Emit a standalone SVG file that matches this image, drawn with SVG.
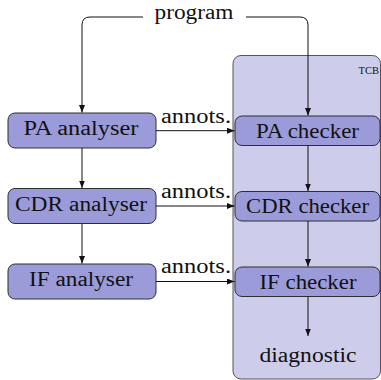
<svg xmlns="http://www.w3.org/2000/svg" width="381" height="380" viewBox="0 0 381 380">
<style>
  .node { fill: #9b9bda; stroke: #2e2e2e; stroke-width: 1; }
  .tcb { fill: #cdcdeb; stroke: #555; stroke-width: 1; }
  .lbl { font-size: 20px; text-anchor: middle; fill: #111; }
  .small { font-size: 10.5px; text-anchor: end; fill: #111; }
  .conn { fill: none; stroke: #111; stroke-width: 1; }
</style>
<defs>
  <marker id="arr" markerUnits="userSpaceOnUse" markerWidth="8" markerHeight="7" refX="7.5" refY="3" orient="auto">
    <path d="M0,0 L7.5,3 L0,6 z" fill="#111"/>
  </marker>
</defs>

<g id="tcb">
  <rect class="tcb" x="233" y="55.5" width="147.5" height="323.5" rx="8" ry="8"/>
  <text class="small" x="379" y="74" font-family="Liberation Serif, DejaVu Serif, serif">TCB</text>
</g>

<g id="pa-analyser">
  <rect class="node" x="8" y="113" width="148" height="35" rx="7" ry="7"/>
  <text class="lbl" x="81" y="135.2" font-family="Liberation Serif, DejaVu Serif, serif" textLength="115" lengthAdjust="spacingAndGlyphs">PA analyser</text>
</g>
<g id="cdr-analyser">
  <rect class="node" x="8" y="188.5" width="148" height="35" rx="7" ry="7"/>
  <text class="lbl" x="81" y="210.7" font-family="Liberation Serif, DejaVu Serif, serif" textLength="132" lengthAdjust="spacingAndGlyphs">CDR analyser</text>
</g>
<g id="if-analyser">
  <rect class="node" x="8" y="264" width="148" height="35" rx="7" ry="7"/>
  <text class="lbl" x="81" y="286.2" font-family="Liberation Serif, DejaVu Serif, serif" textLength="104" lengthAdjust="spacingAndGlyphs">IF analyser</text>
</g>

<g id="pa-checker">
  <rect class="node" x="235" y="116" width="145" height="29.5" rx="7" ry="7"/>
  <text class="lbl" x="307.5" y="137.7" font-family="Liberation Serif, DejaVu Serif, serif" textLength="103" lengthAdjust="spacingAndGlyphs">PA checker</text>
</g>
<g id="cdr-checker">
  <rect class="node" x="235" y="191.5" width="145" height="29.5" rx="7" ry="7"/>
  <text class="lbl" x="307.5" y="213.2" font-family="Liberation Serif, DejaVu Serif, serif" textLength="123" lengthAdjust="spacingAndGlyphs">CDR checker</text>
</g>
<g id="if-checker">
  <rect class="node" x="235" y="267" width="145" height="29.5" rx="7" ry="7"/>
  <text class="lbl" x="308" y="288.7" font-family="Liberation Serif, DejaVu Serif, serif" textLength="97" lengthAdjust="spacingAndGlyphs">IF checker</text>
</g>

<g id="diagnostic">
  <text class="lbl" x="308" y="361.5" font-family="Liberation Serif, DejaVu Serif, serif" textLength="97" lengthAdjust="spacingAndGlyphs">diagnostic</text>
</g>

<g id="program">
  <text class="lbl" x="194" y="19" font-family="Liberation Serif, DejaVu Serif, serif" textLength="79" lengthAdjust="spacingAndGlyphs">program</text>
</g>

<g id="connectors">
  <path class="conn" d="M143,17 H90 Q82,17 82,25 V112.5" marker-end="url(#arr)"/>
  <path class="conn" d="M246,17 H300 Q308,17 308,25 V115.5" marker-end="url(#arr)"/>
  <path class="conn" d="M82,148 V188" marker-end="url(#arr)"/>
  <path class="conn" d="M82,223.5 V263.5" marker-end="url(#arr)"/>
  <path class="conn" d="M308,145.5 V191" marker-end="url(#arr)"/>
  <path class="conn" d="M308,221 V266.5" marker-end="url(#arr)"/>
  <path class="conn" d="M308,296.5 V336" marker-end="url(#arr)"/>
  <path class="conn" d="M156,130.7 H234.5" marker-end="url(#arr)"/>
  <path class="conn" d="M156,206 H234.5" marker-end="url(#arr)"/>
  <path class="conn" d="M156,281.5 H234.5" marker-end="url(#arr)"/>
  <text class="lbl" x="196" y="122.7" font-family="Liberation Serif, DejaVu Serif, serif" textLength="70" lengthAdjust="spacingAndGlyphs">annots.</text>
  <text class="lbl" x="196" y="198" font-family="Liberation Serif, DejaVu Serif, serif" textLength="70" lengthAdjust="spacingAndGlyphs">annots.</text>
  <text class="lbl" x="196" y="273.3" font-family="Liberation Serif, DejaVu Serif, serif" textLength="70" lengthAdjust="spacingAndGlyphs">annots.</text>
</g>
</svg>
